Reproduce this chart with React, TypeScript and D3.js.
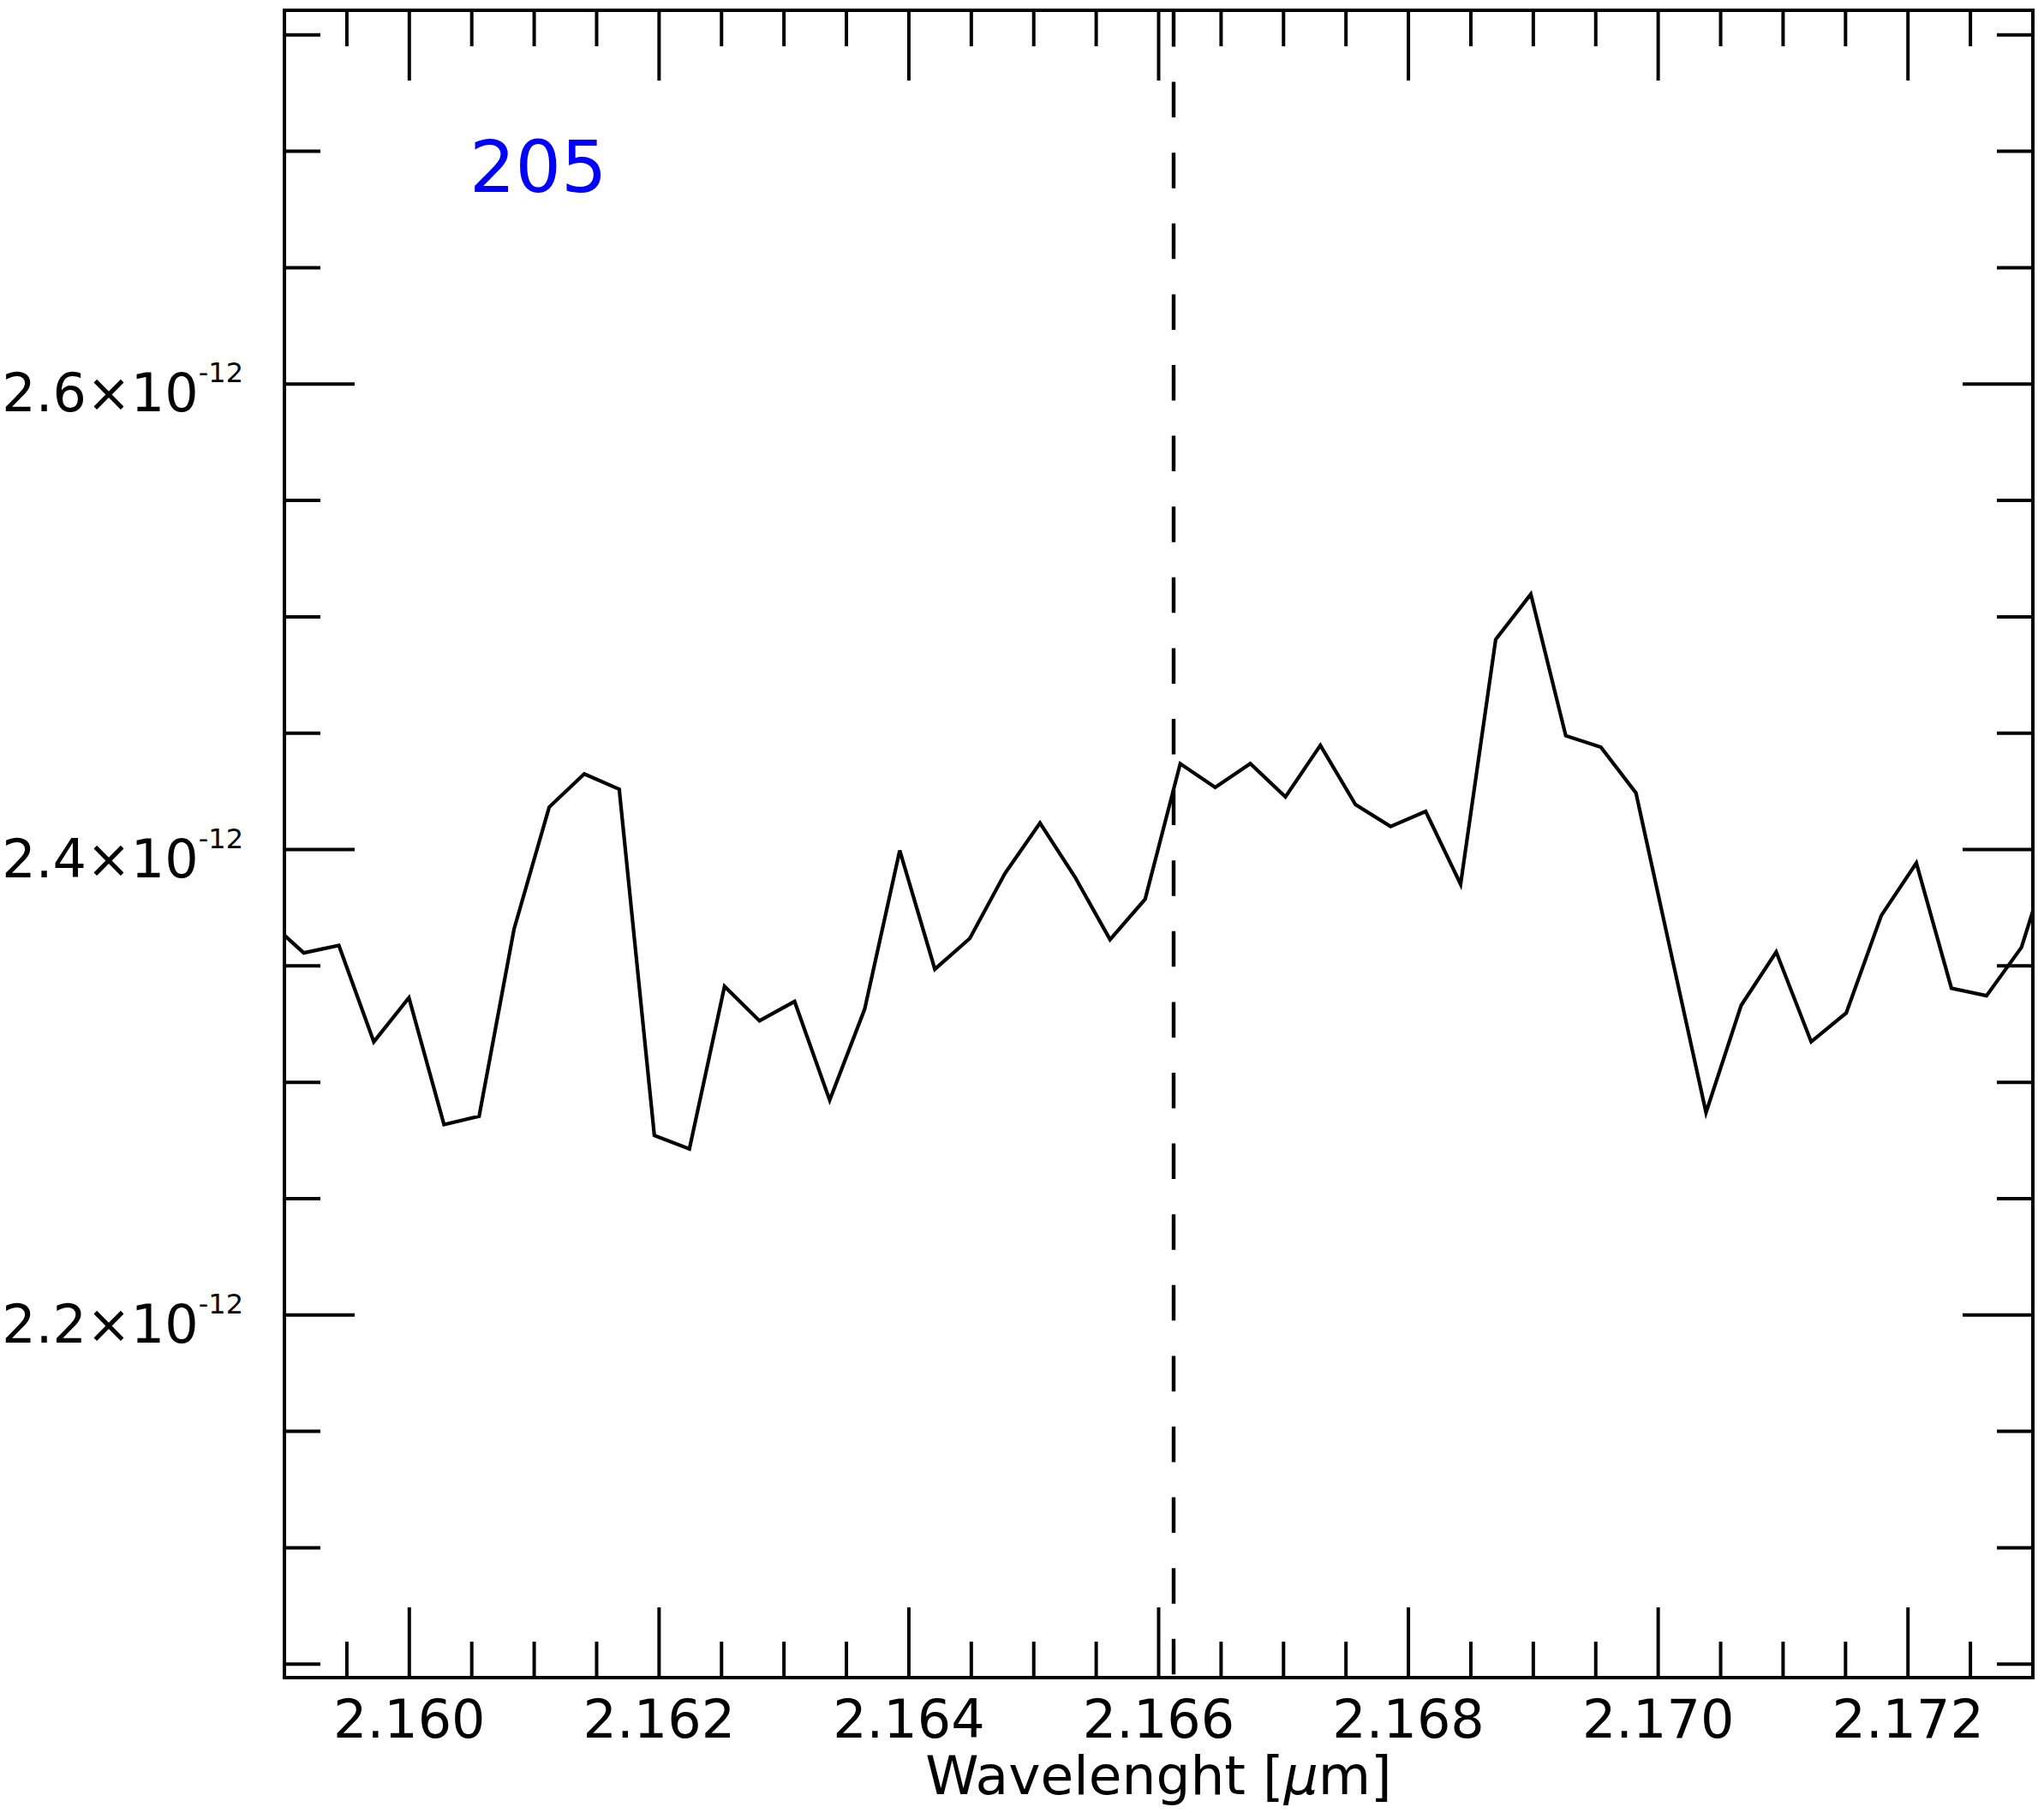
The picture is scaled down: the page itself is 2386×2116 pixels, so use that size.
import React from "react";
import * as d3 from "d3";

// Spectrum data (wavelength in µm, flux in units of 1e-12)
const wavelengths = [
  2.158874, 2.159155, 2.159436, 2.159716, 2.159997, 2.160278, 2.160559, 2.160839,
  2.16112, 2.161401, 2.161681, 2.161962, 2.162243, 2.162524, 2.162804, 2.163085,
  2.163366, 2.163646, 2.163927, 2.164208, 2.164488, 2.164769, 2.16505, 2.165331,
  2.165611, 2.165892, 2.166173, 2.166453, 2.166734, 2.167015, 2.167295, 2.167576,
  2.167857, 2.168138, 2.168418, 2.168699, 2.16898, 2.16926, 2.169541, 2.169822,
  2.170102, 2.170383, 2.170664, 2.170945, 2.171225, 2.171506, 2.171787, 2.172067,
  2.172348, 2.172629, 2.172909, 2.17319,
];
const fluxes = [
  2.3693, 2.3556, 2.3588, 2.3174, 2.3363, 2.2818, 2.2854, 2.3659,
  2.4182, 2.4325, 2.4259, 2.2772, 2.2714, 2.3412, 2.3264, 2.3347,
  2.2923, 2.3314, 2.3996, 2.3486, 2.3618, 2.3897, 2.4114, 2.3881,
  2.3613, 2.3787, 2.4369, 2.4267, 2.4369, 2.4226, 2.4448, 2.4193,
  2.4099, 2.4164, 2.3851, 2.4903, 2.5097, 2.4489, 2.444, 2.4243,
  2.3557, 2.287, 2.333, 2.356, 2.3174, 2.3298, 2.3717, 2.3942,
  2.3404, 2.3372, 2.358, 2.4061,
];
const lineWavelength = 2.16612;
const xMajorTicks = [2.16, 2.162, 2.164, 2.166, 2.168, 2.17, 2.172];
const xTickLabels = ["2.160", "2.162", "2.164", "2.166", "2.168", "2.170", "2.172"];
const yMajorTicks = [2.2, 2.4, 2.6];
const yTickMantissas = ["2.2", "2.4", "2.6"];
const yExponent = "-12";
const xDomain = [2.159, 2.173];
const yDomain = [2.0442, 2.7606];
const labelText = "205";

export default function App() {
  const W = 2386, H = 2116;
  const left = 332, right = 2373, top = 12, bottom = 1958;
  const x = d3.scaleLinear().domain(xDomain).range([left, right]);
  const y = d3.scaleLinear().domain(yDomain).range([bottom, top]);

  const xMinor = d3.range(0, 29).map((i) => 2.159 + i * 0.0005).filter(
    (v) => v > xDomain[0] + 1e-7 && v < xDomain[1] - 1e-7 && !xMajorTicks.some((m) => Math.abs(m - v) < 1e-7)
  );
  const yMinor = d3.range(0, 20).map((i) => 2.0 + i * 0.05).filter(
    (v) => v > yDomain[0] && v < yDomain[1] && !yMajorTicks.some((m) => Math.abs(m - v) < 1e-7)
  );

  const pts: [number, number][] = wavelengths.map((w, i) => [w, fluxes[i]]);
  const line = d3.line<[number, number]>().x((d) => x(d[0])).y((d) => y(d[1]));

  const font = "'DejaVu Sans', sans-serif";
  const tw = 4;
  const majLen = 82, minLen = 42;

  return (
    <svg width={W} height={H} style={{ position: "absolute", left: 0, top: 0, background: "#fff" }}>
      <defs>
        <clipPath id="plotclip">
          <rect x={left} y={top} width={right - left} height={bottom - top} />
        </clipPath>
      </defs>
      <rect x={0} y={0} width={W} height={H} fill="#fff" />
      {/* data */}
      <path d={line(pts) || ""} fill="none" stroke="#000" strokeWidth={4.2} strokeLinejoin="miter" clipPath="url(#plotclip)" />
      {/* dashed line */}
      <line x1={x(lineWavelength)} x2={x(lineWavelength)} y1={top + 1} y2={bottom} stroke="#000" strokeWidth={4.4} strokeDasharray="41.5,41.1" />
      {/* x ticks */}
      {xMajorTicks.map((t) => (
        <g key={"xm" + t}>
          <line x1={x(t)} x2={x(t)} y1={bottom} y2={bottom - majLen} stroke="#000" strokeWidth={tw} />
          <line x1={x(t)} x2={x(t)} y1={top} y2={top + majLen} stroke="#000" strokeWidth={tw} />
        </g>
      ))}
      {xMinor.map((t) => (
        <g key={"xn" + t}>
          <line x1={x(t)} x2={x(t)} y1={bottom} y2={bottom - minLen} stroke="#000" strokeWidth={tw} />
          <line x1={x(t)} x2={x(t)} y1={top} y2={top + minLen} stroke="#000" strokeWidth={tw} />
        </g>
      ))}
      {/* y ticks */}
      {yMajorTicks.map((t) => (
        <g key={"ym" + t}>
          <line x1={left} x2={left + majLen} y1={y(t)} y2={y(t)} stroke="#000" strokeWidth={tw} />
          <line x1={right} x2={right - majLen} y1={y(t)} y2={y(t)} stroke="#000" strokeWidth={tw} />
        </g>
      ))}
      {yMinor.map((t) => (
        <g key={"yn" + t}>
          <line x1={left} x2={left + minLen} y1={y(t)} y2={y(t)} stroke="#000" strokeWidth={tw} />
          <line x1={right} x2={right - minLen} y1={y(t)} y2={y(t)} stroke="#000" strokeWidth={tw} />
        </g>
      ))}
      {/* frame */}
      <rect x={left} y={top} width={right - left} height={bottom - top} fill="none" stroke="#000" strokeWidth={4} />
      {/* x tick labels */}
      {xMajorTicks.map((t, i) => (
        <text key={"xl" + t} x={x(t)} y={bottom + 70} textAnchor="middle" fontFamily={font} fontSize={62} fill="#000">
          {xTickLabels[i]}
        </text>
      ))}
      {/* y tick labels */}
      {yMajorTicks.map((t, i) => (
        <text key={"yl" + t} x={284} y={y(t) + 32} textAnchor="end" fontFamily={font} fontSize={62} fill="#000">
          <tspan>{yTickMantissas[i] + "×10"}</tspan>
          <tspan dy={-34} fontSize={32}>{yExponent}</tspan>
        </text>
      ))}
      {/* x axis label */}
      <text x={(left + right) / 2} y={2094} textAnchor="middle" fontFamily={font} fontSize={63} fill="#000">
        <tspan>Wavelenght [</tspan>
        <tspan fontStyle="italic">μ</tspan>
        <tspan>m]</tspan>
      </text>
      {/* annotation */}
      <text x={548} y={224} fontFamily={font} fontSize={84} fill="#0000ff">{labelText}</text>
    </svg>
  );
}
